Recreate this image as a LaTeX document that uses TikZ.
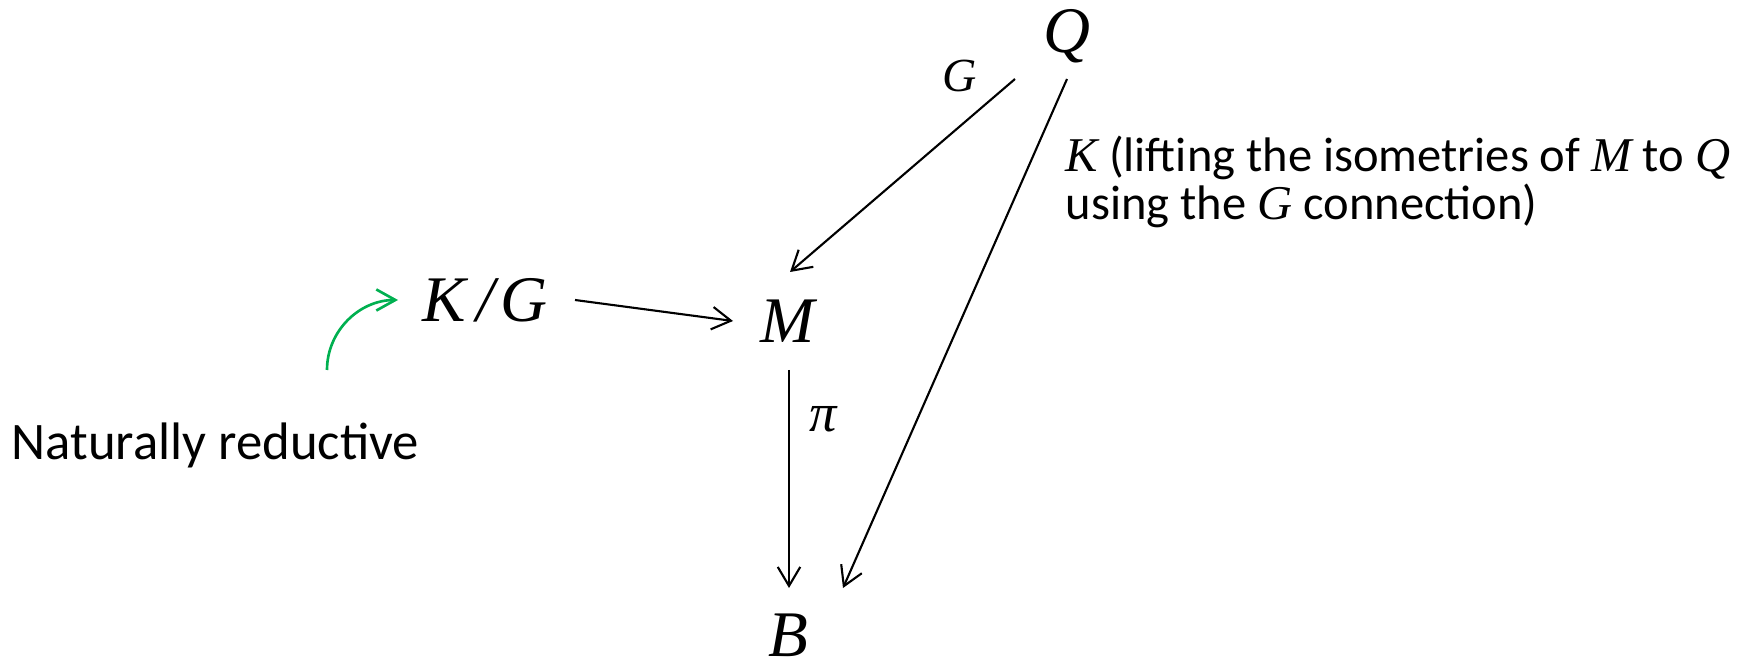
\documentclass[tikz,border=0pt]{standalone}
\usepackage{fontspec}
\setmainfont{Carlito}
\newfontfamily\mathfnt{Liberation Serif}
\usepackage{tikz}
\usetikzlibrary{arrows.meta,positioning,calc}
\definecolor{natgreen}{HTML}{00B050}
\newcommand\mv[1]{{\mathfnt\itshape #1}}
\tikzset{
  obj/.style    = {inner sep=0pt, anchor=base, font=\mathfnt\itshape\fontsize{18.5}{22}\selectfont},
  maplbl/.style = {inner sep=0pt, anchor=base, font=\mathfnt\itshape\fontsize{13.5}{16}\selectfont},
  note/.style   = {inner sep=0pt, align=left, font=\fontsize{13.8}{13.7}\selectfont},
  map/.style    = {-{Straight Barb[length=5.4pt,width=6.4pt]}, line width=0.6pt, draw=black},
  hint/.style   = {-{Straight Barb[length=5.4pt,width=6pt]}, line width=0.75pt, draw=natgreen},
}

\begin{document}
\begin{tikzpicture}[x=0.01cm, y=-0.01cm]
\useasboundingbox (0,0) rectangle (1746,661);
\node[obj] (Q) at (1067,53) {Q};
\node[obj] (KG) at (485,322) {K\kern3pt/\kern1.5pt G};
\node[obj] (M) at (788,343) {M};
\node[obj] (B) at (788,656) {B};
\node[maplbl] (glbl) at (960,92) {G};
\node[maplbl, font=\mathfnt\itshape\fontsize{15.5}{16}\selectfont] (pilbl) at (823,432) {\char"03C0};
\node[note, anchor=base west] (lift) at (1065,220)
  {\mv{K} (lifting the isometries of \mv{M} to \mv{Q}\\using the \mv{G} connection)};
\node[note, anchor=base west, font=\fontsize{15}{16}\selectfont] (nat) at (11,459) {Naturally reductive};
% maps
\draw[map] ([shift={(-52,26)}]Q.base) -- ([shift={(2,-71)}]M.base);
\draw[map] ([shift={(0,26)}]Q.base) -- ([shift={(55,-68)}]B.base);
\draw[map] ([shift={(90,-22)}]KG.base) -- ([shift={(-55,-22)}]M.base);
\draw[map] ([shift={(1,27)}]M.base) -- ([shift={(1,-68)}]B.base);
\draw[hint] ([shift={(316,-89)}]nat.base west) to[out=90, in=180] ([shift={(-87,-22)}]KG.base);
\end{tikzpicture}
\end{document}
